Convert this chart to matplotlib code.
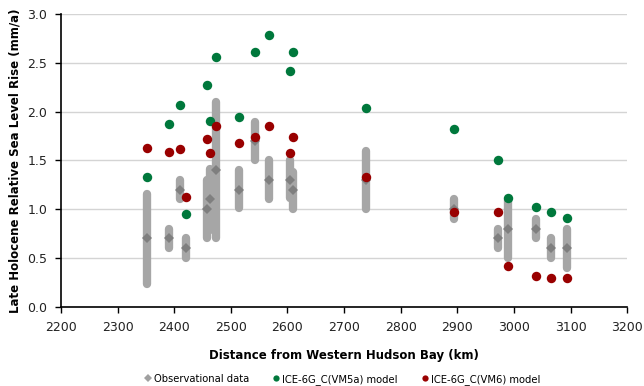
import matplotlib
matplotlib.use("Agg")
from matplotlib import pyplot as plt
from matplotlib.lines import Line2D

# distance from western Hudson Bay (km)
dist = [2352, 2390, 2410, 2420, 2458, 2464, 2473, 2514, 2543, 2567,
        2605, 2609, 2738, 2894, 2971, 2990, 3038, 3065, 3094]
# observed rate (mm/a) with range
obs = [0.7, 0.7, 1.2, 0.6, 1.0, 1.1, 1.4, 1.2, 1.7, 1.3,
       1.3, 1.2, 1.3, 1.0, 0.7, 0.8, 0.8, 0.6, 0.6]
obs_lo = [0.23, 0.60, 1.10, 0.50, 0.70, 0.79, 0.70, 1.01, 1.50, 1.10,
          1.12, 1.00, 1.00, 0.90, 0.60, 0.50, 0.70, 0.50, 0.40]
obs_hi = [1.16, 0.80, 1.30, 0.70, 1.30, 1.41, 2.10, 1.40, 1.90, 1.50,
          1.50, 1.38, 1.60, 1.10, 0.80, 1.09, 0.90, 0.70, 0.80]
# model predictions
vm5a = [1.33, 1.87, 2.07, 0.95, 2.27, 1.91, 2.56, 1.95, 2.61, 2.79,
        2.42, 2.61, 2.04, 1.82, 1.50, 1.12, 1.02, 0.97, 0.91]
vm6 = [1.63, 1.59, 1.62, 1.13, 1.72, 1.58, 1.85, 1.68, 1.74, 1.85,
       1.58, 1.74, 1.33, 0.97, 0.97, 0.42, 0.32, 0.29, 0.29]

BAR_C = "#a6a6a6"
OBS_C = "#7f7f7f"
GREEN = "#00783c"
RED = "#990000"

fig = plt.figure(figsize=(6.44, 3.86), dpi=100)
ax = fig.add_axes([0.0947, 0.2054, 0.974 - 0.0947, 0.963 - 0.2054])

ax.vlines(dist, obs_lo, obs_hi, colors=BAR_C, linewidth=6,
          capstyle="round", zorder=2)
ax.plot(dist, obs, "D", color=OBS_C, markersize=5.5, markeredgewidth=0,
        zorder=3)
ax.plot(dist, vm5a, "o", color=GREEN, markersize=6.8, markeredgewidth=0,
        zorder=4)
ax.plot(dist, vm6, "o", color=RED, markersize=6.8, markeredgewidth=0,
        zorder=5)

ax.set_xlim(2200, 3200)
ax.set_ylim(0, 3.0)
ax.set_xticks(range(2200, 3201, 100))
ax.set_yticks([0, 0.5, 1.0, 1.5, 2.0, 2.5, 3.0])
ax.set_yticklabels(["0.0", "0.5", "1.0", "1.5", "2.0", "2.5", "3.0"])
ax.yaxis.grid(True, color="#d4d4d4", linewidth=1.0)
ax.set_axisbelow(True)
for side in ["top", "right"]:
    ax.spines[side].set_visible(False)
for side in ["left", "bottom"]:
    ax.spines[side].set_linewidth(1.2)
ax.tick_params(direction="out", length=4, width=1.0, labelsize=9,
               colors="black", pad=6)
ax.tick_params(axis="x", labelcolor="#222222")
ax.tick_params(axis="y", labelcolor="#222222")

ax.set_xlabel("Distance from Western Hudson Bay (km)", fontsize=8.5,
              fontweight="bold", labelpad=11)
ax.set_ylabel("Late Holocene Relative Sea Level Rise (mm/a)", fontsize=8.5,
              fontweight="bold", labelpad=4)

handles = [
    Line2D([], [], ls="none", marker="D", color="#a0a0a0", markersize=4,
           markeredgewidth=0, label="Observational data"),
    Line2D([], [], ls="none", marker="o", color=GREEN, markersize=4.5,
           markeredgewidth=0, label="ICE-6G_C(VM5a) model"),
    Line2D([], [], ls="none", marker="o", color=RED, markersize=4.5,
           markeredgewidth=0, label="ICE-6G_C(VM6) model"),
]
fig.legend(handles=handles, loc="lower center", bbox_to_anchor=(0.53, -0.02),
           ncol=3, frameon=False, fontsize=7.2, handletextpad=0.1,
           columnspacing=2.2, handlelength=1.0)

fig.savefig("out.png", dpi=100)
